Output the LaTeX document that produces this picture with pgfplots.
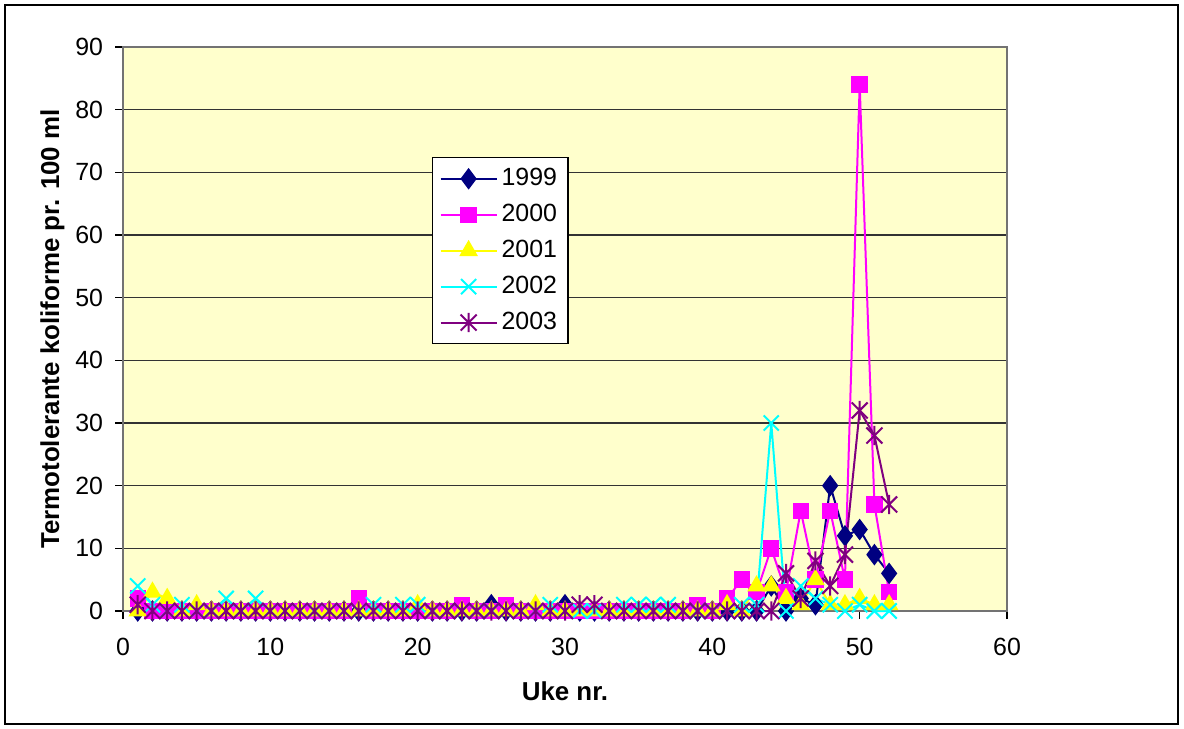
\documentclass[border=0pt]{standalone}
\usepackage{pgfplots}
\pgfplotsset{compat=1.18}
\usepackage{fontspec}
\setmainfont{Liberation Sans}
\definecolor{c99}{HTML}{000080}
\definecolor{c00}{HTML}{FF00FF}
\definecolor{c01}{HTML}{FFFF00}
\definecolor{c02}{HTML}{00FFFF}
\definecolor{c03}{HTML}{800080}
\definecolor{bgy}{HTML}{FFFFCC}
\pgfdeclareplotmark{xstar}{%
  \pgfpathmoveto{\pgfqpoint{-\pgfplotmarksize}{-\pgfplotmarksize}}%
  \pgfpathlineto{\pgfqpoint{\pgfplotmarksize}{\pgfplotmarksize}}%
  \pgfpathmoveto{\pgfqpoint{-\pgfplotmarksize}{\pgfplotmarksize}}%
  \pgfpathlineto{\pgfqpoint{\pgfplotmarksize}{-\pgfplotmarksize}}%
  \pgfpathmoveto{\pgfqpoint{0pt}{-1.2\pgfplotmarksize}}%
  \pgfpathlineto{\pgfqpoint{0pt}{1.2\pgfplotmarksize}}%
  \pgfusepathqstroke}
\pgfdeclareplotmark{xcross}{%
  \pgfpathmoveto{\pgfqpoint{-\pgfplotmarksize}{-\pgfplotmarksize}}%
  \pgfpathlineto{\pgfqpoint{\pgfplotmarksize}{\pgfplotmarksize}}%
  \pgfpathmoveto{\pgfqpoint{-\pgfplotmarksize}{\pgfplotmarksize}}%
  \pgfpathlineto{\pgfqpoint{\pgfplotmarksize}{-\pgfplotmarksize}}%
  \pgfusepathqstroke}
\pgfplotstableread{
w y99 y00 y01 y02 y03
1 0 2 0 4 1
2 0 0 3 1 0
3 0 0 2 0 0
4 0 0 0 1 0
5 0 0 1 0 0
6 0 0 0 0 0
7 0 0 0 2 0
8 0 0 0 0 0
9 0 0 0 2 0
10 0 0 0 0 0
11 0 0 0 0 0
12 0 0 0 0 0
13 0 0 0 0 0
14 0 0 0 0 0
15 0 0 0 0 0
16 0 2 0 0 0
17 0 0 0 1 0
18 0 0 0 0 0
19 0 0 0 1 0
20 0 0 1 1 0
21 0 0 0 0 0
22 0 0 0 0 0
23 0 1 0 0 0
24 0 0 0 0 0
25 1 0 0 0 0
26 0 1 0 0 0
27 0 0 0 0 0
28 0 0 1 0 0
29 0 0 0 1 0
30 1 0 0 0 0
31 0 0 0 0 1
32 0 0 0 0 1
33 0 0 0 0 0
34 0 0 0 1 0
35 0 0 0 1 0
36 0 0 0 1 0
37 0 0 0 1 0
38 0 0 0 0 0
39 0 1 0 0 0
40 0 0 0 0 0
41 0 2 1 0 0
42 0 5 0 1 0
43 0 3 4 1 0
44 4 10 4 30 0
45 0 3 2 0 6
46 2 16 1 4 2
47 1 5 5 2 8
48 20 16 1 1 4
49 12 5 1 0 9
50 13 84 2 1 32
51 9 17 1 0 28
52 6 3 1 0 17
}\datatab
\begin{document}
\begin{tikzpicture}[x=1bp,y=1bp]
\path[use as bounding box] (-61.5bp,-59bp) rectangle (530.5bp,305.5bp);
\draw[black, line width=0.8bp] (-59bp,-56.5bp) rectangle (527.5bp,303bp);
\begin{axis}[
  at={(0,0)}, anchor=south west,
  scale only axis, width=442bp, height=282bp,
  xmin=0, xmax=60, ymin=0, ymax=90,
  xtick={0,10,...,60}, ytick={0,10,...,90},
  axis background/.style={fill=bgy},
  axis line style={draw=gray!90!black, line width=1bp},
  ymajorgrids, grid style={black!80, line width=0.6bp},
  tick style={black, line width=0.6bp},
  tick align=outside, major tick length=4bp,
  xtick pos=bottom, ytick pos=left,
  every tick label/.append style={font=\fontsize{12.5}{14}\selectfont},
  xticklabel style={yshift=-6bp},
  yticklabel style={xshift=-2.5bp},
  /pgf/number format/assume math mode=true,
  xlabel={\textbf{Uke nr.}}, ylabel={\textbf{Termotolerante koliforme pr. 100 ml}},
  label style={font=\fontsize{13}{15}\selectfont},
  xlabel style={yshift=-6bp},
  ylabel style={yshift=-1.5bp},
  clip=false,
  legend style={at={(154.5bp,227bp)}, anchor=north west, draw=black, fill=white,
    line width=0.6bp, font=\fontsize{12.5}{15}\selectfont, row sep=3.8bp,
    inner sep=3.5bp},
  legend cell align=left,
  legend image code/.code={\draw[#1] (0bp,0bp) -- (28bp,0bp) plot coordinates {(14bp,0bp)};},
]
\addplot[c99, line width=1bp, mark=diamond*, mark size=4.6bp, mark options={fill=c99, draw=c99}] table[x=w,y=y99]{\datatab};
\addlegendentry{1999}
\addplot[c00, line width=1bp, mark=square*, mark size=3.6bp, mark options={fill=c00, draw=c00}] table[x=w,y=y00]{\datatab};
\addlegendentry{2000}
\addplot[c01, line width=1bp, mark=triangle*, mark size=4.4bp, mark options={fill=c01, draw=c01}] table[x=w,y=y01]{\datatab};
\addlegendentry{2001}
\addplot[c02, line width=1bp, mark=xcross, mark size=3.8bp, mark options={draw=c02, line width=1bp}] table[x=w,y=y02]{\datatab};
\addlegendentry{2002}
\addplot[c03, line width=1bp, mark=xstar, mark size=4bp, mark options={draw=c03, line width=1bp}] table[x=w,y=y03]{\datatab};
\addlegendentry{2003}
\end{axis}
\end{tikzpicture}
\end{document}
